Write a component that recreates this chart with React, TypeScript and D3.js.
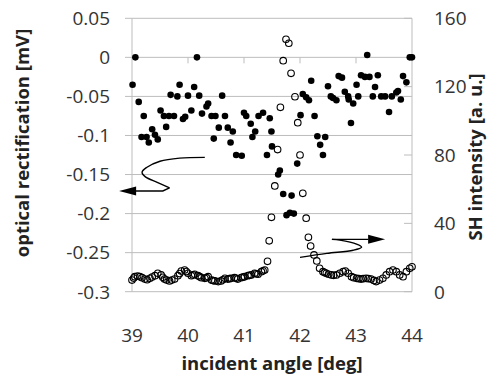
import * as d3 from 'd3';

// optical rectification (filled dots, left axis)
const orAngle = [39.01, 39.06, 39.12, 39.17, 39.21, 39.26, 39.30, 39.36, 39.41, 39.46, 39.51, 39.57, 39.61, 39.66, 39.69, 39.75, 39.81, 39.85, 39.91, 39.95, 40.00, 40.06, 40.11, 40.16, 40.20, 40.25, 40.33, 40.36, 40.42, 40.46, 40.49, 40.55, 40.61, 40.66, 40.71, 40.76, 40.80, 40.86, 40.96, 41.00, 41.04, 41.12, 41.15, 41.20, 41.26, 41.34, 41.41, 41.46, 41.49, 41.50, 41.61, 41.64, 41.70, 41.76, 41.82, 41.85, 41.89, 41.95, 42.01, 42.05, 42.11, 42.16, 42.20, 42.26, 42.31, 42.36, 42.41, 42.45, 42.50, 42.55, 42.59, 42.65, 42.69, 42.75, 42.80, 42.86, 42.87, 42.91, 42.95, 43.01, 43.04, 43.09, 43.16, 43.20, 43.24, 43.30, 43.34, 43.39, 43.45, 43.52, 43.59, 43.64, 43.72, 43.75, 43.80, 43.84, 43.90, 43.96, 44.00];
const orValue = [-0.035, 0.0, -0.057, -0.102, -0.075, -0.102, -0.109, -0.092, -0.099, -0.105, -0.068, -0.075, -0.089, -0.075, -0.048, -0.075, -0.050, -0.035, -0.079, -0.076, -0.049, -0.068, -0.038, 0.0, -0.049, -0.072, -0.063, -0.059, -0.075, -0.104, -0.075, -0.090, -0.049, -0.075, -0.090, -0.109, -0.095, -0.125, -0.126, -0.071, -0.075, -0.085, -0.102, -0.095, -0.075, -0.071, -0.125, -0.078, -0.095, -0.114, -0.150, -0.145, -0.175, -0.202, -0.199, -0.177, -0.200, -0.136, -0.074, -0.047, -0.051, -0.055, -0.030, -0.075, -0.101, -0.112, -0.125, -0.102, -0.037, -0.050, -0.052, -0.055, -0.024, -0.026, -0.044, -0.050, -0.054, -0.084, -0.059, -0.035, -0.050, -0.023, -0.025, 0.003, -0.025, -0.050, -0.038, -0.023, -0.050, -0.050, -0.070, -0.050, -0.045, -0.043, -0.054, -0.024, -0.032, 0.0, 0.0];

// SH intensity (open circles, right axis)
const shAngle = [39.00, 39.03, 39.05, 39.10, 39.14, 39.18, 39.23, 39.27, 39.32, 39.36, 39.41, 39.46, 39.52, 39.55, 39.58, 39.62, 39.67, 39.71, 39.76, 39.82, 39.85, 39.88, 39.94, 39.97, 40.00, 40.06, 40.09, 40.12, 40.18, 40.21, 40.24, 40.30, 40.33, 40.36, 40.42, 40.45, 40.48, 40.54, 40.59, 40.62, 40.66, 40.71, 40.74, 40.77, 40.83, 40.86, 40.89, 40.95, 40.98, 41.01, 41.07, 41.10, 41.13, 41.19, 41.22, 41.25, 41.31, 41.34, 41.37, 41.42, 41.45, 41.49, 41.55, 41.60, 41.65, 41.70, 41.75, 41.80, 41.84, 41.91, 41.96, 42.00, 42.05, 42.11, 42.15, 42.19, 42.25, 42.30, 42.35, 42.41, 42.44, 42.47, 42.51, 42.56, 42.60, 42.65, 42.71, 42.77, 42.81, 42.86, 42.92, 42.96, 43.01, 43.05, 43.09, 43.13, 43.18, 43.22, 43.27, 43.32, 43.36, 43.42, 43.48, 43.54, 43.60, 43.66, 43.72, 43.78, 43.84, 43.90, 43.96, 44.00];
const shValue = [6.8, 8.0, 8.8, 9.2, 8.8, 8.2, 7.4, 7.0, 7.8, 8.6, 9.4, 10.8, 9.8, 8.4, 7.4, 6.8, 6.3, 6.8, 7.4, 9.4, 10.6, 12.1, 12.7, 11.8, 10.8, 9.4, 9.8, 10.2, 9.4, 8.8, 8.2, 7.8, 8.2, 8.8, 6.8, 6.5, 6.3, 5.9, 6.3, 7.0, 7.8, 7.4, 7.6, 7.8, 8.2, 7.8, 7.4, 8.2, 8.5, 8.8, 9.4, 9.6, 9.8, 10.8, 10.5, 10.2, 11.7, 12.2, 12.7, 17.8, 29.8, 43.5, 61.9, 83.2, 107.9, 135.2, 147.7, 145.4, 127.8, 114.1, 98.9, 80, 57.6, 43, 31.8, 26.7, 21.5, 18.0, 13.7, 11.7, 11.2, 10.8, 10.2, 9.8, 9.6, 9.8, 10.8, 11.7, 12.1, 10.8, 8.8, 8.2, 7.8, 7.6, 7.4, 7.6, 7.8, 7.6, 7.4, 6.6, 5.9, 6.8, 7.8, 9.8, 11.7, 12.7, 11.7, 9.8, 8.8, 11.7, 13.7, 14.6];

const xTicks = [39, 40, 41, 42, 43, 44];
const leftTicks = [0.05, 0, -0.05, -0.1, -0.15, -0.2, -0.25, -0.3];
const rightTicks = [0, 40, 80, 120, 160];

// annotation arrows, in (angle, left-axis value)
const leftArrow: [number, number][] = [[40.30, -0.128], [39.85, -0.129], [39.50, -0.133], [39.26, -0.141], [39.18, -0.147], [39.24, -0.153], [39.45, -0.160], [39.67, -0.167]];
const leftArrowTail: [number, number][] = [[39.67, -0.167], [39.55, -0.171], [39.05, -0.171]];
const leftArrowTip: [number, number] = [38.77, -0.171];
const rightArrow: [number, number][] = [[42.0, -0.256], [42.48, -0.251], [42.95, -0.247], [43.10, -0.243], [43.01, -0.239], [42.71, -0.234], [42.57, -0.233]];
const rightArrowTail: [number, number][] = [[42.57, -0.233], [43.22, -0.233]];
const rightArrowTip: [number, number] = [43.52, -0.233];

const W = 489;
const H = 376;
const left = 132;
const right = 412;
const top = 18.3;
const bottom = 291.7;

const x = d3.scaleLinear().domain([39, 44]).range([left, right]);
const yL = d3.scaleLinear().domain([-0.3, 0.05]).range([bottom, top]);
const yR = d3.scaleLinear().domain([0, 160]).range([bottom, top]);

const grid = '#bdbdbd';
const font = '"Open Sans", sans-serif';
const tickSize = 19;
const titleSize = 18.5;

const fmtL = (v: number) => (v === 0 ? '0' : String(Math.round(v * 100) / 100));

const App = () => {
  const line = d3.line<[number, number]>().x(d => x(d[0])).y(d => yL(d[1])).curve(d3.curveCatmullRom);
  const straight = d3.line<[number, number]>().x(d => x(d[0])).y(d => yL(d[1]));

  const head = (tip: [number, number], dir: number) => {
    const tx = x(tip[0]);
    const ty = yL(tip[1]);
    return `M${tx},${ty} L${tx - dir * 17},${ty - 4.5} L${tx - dir * 17},${ty + 4.5} Z`;
  };

  return (
    <svg width={W} height={H} style={{ position: 'absolute', left: 0, top: 0, background: '#fff' }} fontFamily={font}>
      {/* gridlines + left ticks */}
      {leftTicks.map(t => (
        <g key={t}>
          <line x1={left - 7} x2={right} y1={yL(t)} y2={yL(t)} stroke={grid} strokeWidth={1} />
          <text x={110} y={yL(t)} dy="0.36em" textAnchor="end" fontSize={tickSize} fill="#333">{fmtL(t)}</text>
        </g>
      ))}
      <line x1={left} x2={left} y1={top} y2={bottom} stroke={grid} />
      <line x1={right} x2={right} y1={top} y2={bottom} stroke={grid} />
      {/* x axis crosses at 0 */}
      {xTicks.slice(1, -1).map(t => (
        <line key={t} x1={x(t)} x2={x(t)} y1={yL(0)} y2={yL(0) + 6} stroke={grid} />
      ))}
      {xTicks.map(t => (
        <text key={t} x={x(t)} y={342} textAnchor="middle" fontSize={tickSize} fill="#333">{t}</text>
      ))}
      {/* right axis */}
      {rightTicks.map(t => (
        <g key={t}>
          <line x1={right - 8} x2={right} y1={yR(t)} y2={yR(t)} stroke={grid} />
          <text x={434} y={yR(t)} dy="0.36em" fontSize={tickSize} fill="#333">{t}</text>
        </g>
      ))}

      {/* SH intensity */}
      {shAngle.map((a, i) => (
        <circle key={'s' + i} cx={x(a)} cy={yR(shValue[i])} r={3.3} fill="none" stroke="#000" strokeWidth={1.1} />
      ))}
      {/* optical rectification */}
      {orAngle.map((a, i) => (
        <circle key={'o' + i} cx={x(a)} cy={yL(orValue[i])} r={3.3} fill="#000" />
      ))}

      {/* arrows */}
      <path d={line(leftArrow) ?? ''} fill="none" stroke="#000" strokeWidth={1.4} />
      <path d={straight(leftArrowTail) ?? ''} fill="none" stroke="#000" strokeWidth={1.4} />
      <path d={head(leftArrowTip, -1)} fill="#000" />
      <path d={line(rightArrow) ?? ''} fill="none" stroke="#000" strokeWidth={1.4} />
      <path d={straight(rightArrowTail) ?? ''} fill="none" stroke="#000" strokeWidth={1.4} />
      <path d={head(rightArrowTip, 1)} fill="#000" />

      {/* titles */}
      <text transform="translate(29,143) rotate(-90)" textAnchor="middle" fontSize={titleSize} fontWeight="bold" fill="#222">optical rectification [mV]</text>
      <text transform="translate(482,157) rotate(-90)" textAnchor="middle" fontSize={titleSize} fontWeight="bold" fill="#222">SH intensity [a. u.]</text>
      <text x={(left + right) / 2} y={370} textAnchor="middle" fontSize={titleSize} fontWeight="bold" fill="#222">incident angle [deg]</text>
    </svg>
  );
};

export default App;
